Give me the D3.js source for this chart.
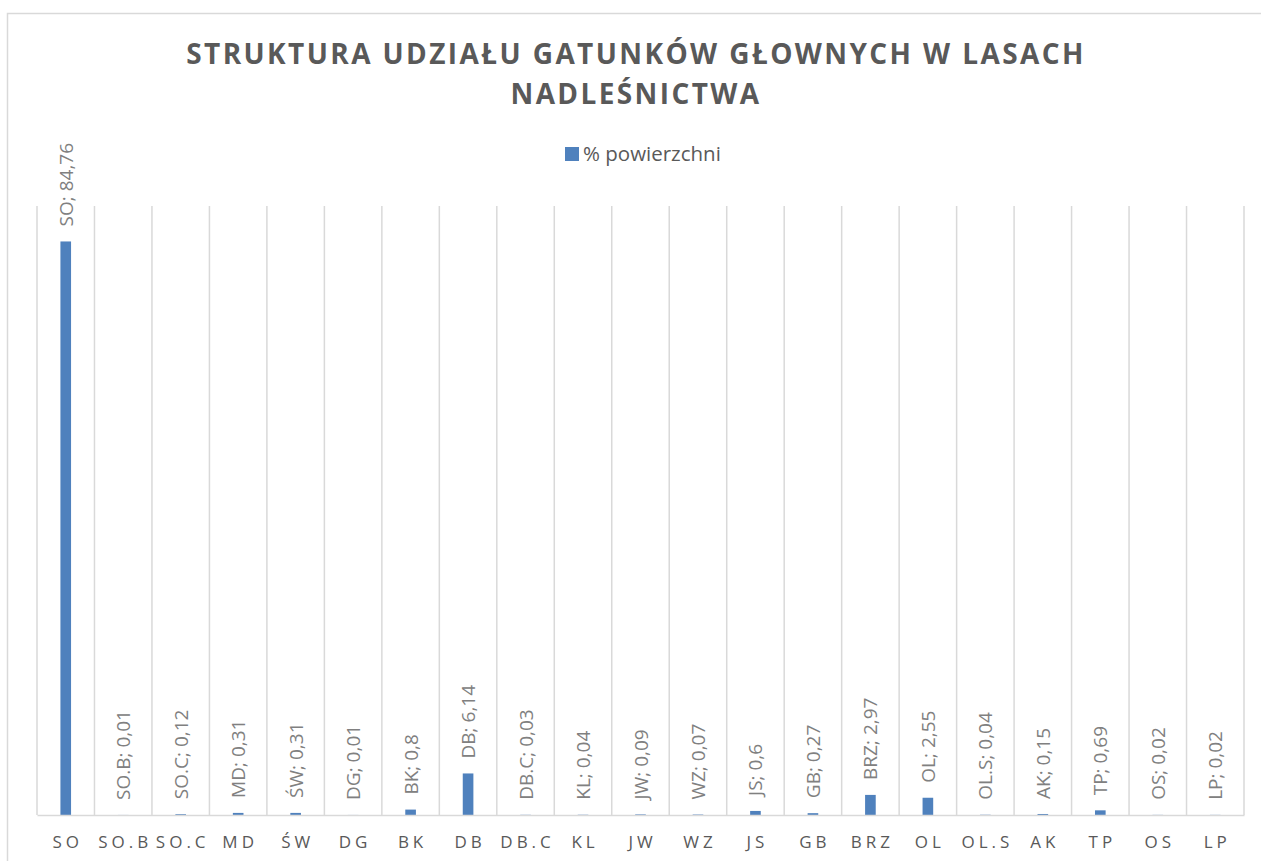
<!DOCTYPE html>
<html>
<head>
<meta charset="utf-8">
<script src="https://cdn.jsdelivr.net/npm/d3@7"></script>
<style>
  body { margin: 0; background: #fff; }
  svg { display: block; }
</style>
</head>
<body>
<script>
// dane z wykresu
var categories = ["SO", "SO.B", "SO.C", "MD", "ŚW", "DG", "BK", "DB", "DB.C", "KL", "JW", "WZ", "JS", "GB", "BRZ", "OL", "OL.S", "AK", "TP", "OS", "LP"];
var values = [84.76, 0.01, 0.12, 0.31, 0.31, 0.01, 0.8, 6.14, 0.03, 0.04, 0.09, 0.07, 0.6, 0.27, 2.97, 2.55, 0.04, 0.15, 0.69, 0.02, 0.02];
var labels = ["SO; 84,76", "SO.B; 0,01", "SO.C; 0,12", "MD; 0,31", "ŚW; 0,31", "DG; 0,01", "BK; 0,8", "DB; 6,14", "DB.C; 0,03", "KL; 0,04", "JW; 0,09", "WZ; 0,07", "JS; 0,6", "GB; 0,27", "BRZ; 2,97", "OL; 2,55", "OL.S; 0,04", "AK; 0,15", "TP; 0,69", "OS; 0,02", "LP; 0,02"];
var seriesName = "% powierzchni";
var titleLines = ["STRUKTURA UDZIAŁU GATUNKÓW GŁOWNYCH W LASACH", "NADLEŚNICTWA"];

var w = 1261;
var h = 861;
var font = "'Open Sans', sans-serif";

var svg = d3.select("body")
			.append("svg")
			.attr("width", w)
			.attr("height", h);

// ramka wykresu
svg.append("rect")
	.attr("x", 7.5)
	.attr("y", 13.5)
	.attr("width", 1270)
	.attr("height", 870)
	.attr("fill", "none")
	.attr("stroke", "#d9d9d9")
	.attr("stroke-width", 1.5);

var xScale = d3.scaleBand()
				.domain(categories)
				.range([37, 1244])
				.padding(0);

var yScale = d3.scaleLinear()
				.domain([0, 90])
				.range([815, 206]);

// linie siatki pionowe
var gridX = categories.map(function(c){ return xScale(c); });
gridX.push(xScale.range()[1]);

svg.selectAll(".grid")
	.data(gridX)
	.enter()
	.append("line")
	.attr("class", "grid")
	.attr("x1", function(d){ return d; })
	.attr("x2", function(d){ return d; })
	.attr("y1", yScale(90))
	.attr("y2", yScale(0))
	.attr("stroke", "#d9d9d9")
	.attr("stroke-width", 1.5);

var barW = xScale.bandwidth() * 0.185;

svg.selectAll(".bar")
	.data(values)
	.enter()
	.append("rect")
	.attr("class", "bar")
	.attr("x", function(d, i){ return xScale(categories[i]) + xScale.bandwidth() / 2 - barW / 2; })
	.attr("y", function(d){ return yScale(d); })
	.attr("width", barW)
	.attr("height", function(d){ return yScale(0) - yScale(d); })
	.attr("fill", "#4f81bd");

// os X
var xAxis = d3.axisBottom(xScale).tickSize(0).tickPadding(0);
var gx = svg.append("g")
			.attr("transform", "translate(0," + yScale(0) + ")")
			.call(xAxis);
gx.select(".domain")
	.attr("stroke", "#d9d9d9")
	.attr("stroke-width", 1.5);
gx.selectAll("text")
	.attr("y", 33)
	.attr("dy", 0)
	.attr("dx", 2)
	.attr("font-family", font)
	.attr("font-size", 17)
	.attr("letter-spacing", 4)
	.attr("fill", "#595959");

// etykiety danych
svg.selectAll(".lbl")
	.data(values)
	.enter()
	.append("text")
	.attr("class", "lbl")
	.attr("transform", function(d, i){
		var x = xScale(categories[i]) + xScale.bandwidth() / 2 + 7;
		var y = yScale(d) - 15;
		return "translate(" + x + "," + y + ") rotate(-90)";
	})
	.text(function(d, i){ return labels[i]; })
	.attr("font-family", font)
	.attr("font-size", 19)
	.attr("fill", "#808080");

// tytul
svg.selectAll(".title")
	.data(titleLines)
	.enter()
	.append("text")
	.attr("class", "title")
	.attr("x", 636)
	.attr("y", function(d, i){ return 64 + i * 40; })
	.attr("text-anchor", "middle")
	.text(function(d){ return d; })
	.attr("font-family", font)
	.attr("font-size", 28)
	.attr("font-weight", "bold")
	.attr("letter-spacing", 2.4)
	.attr("fill", "#595959");

// legenda
svg.append("rect")
	.attr("x", 565)
	.attr("y", 147)
	.attr("width", 14)
	.attr("height", 14)
	.attr("fill", "#4f81bd");
svg.append("text")
	.attr("x", 583)
	.attr("y", 161)
	.text(seriesName)
	.attr("font-family", font)
	.attr("font-size", 20.5)
	.attr("fill", "#595959");
</script>
</body>
</html>
